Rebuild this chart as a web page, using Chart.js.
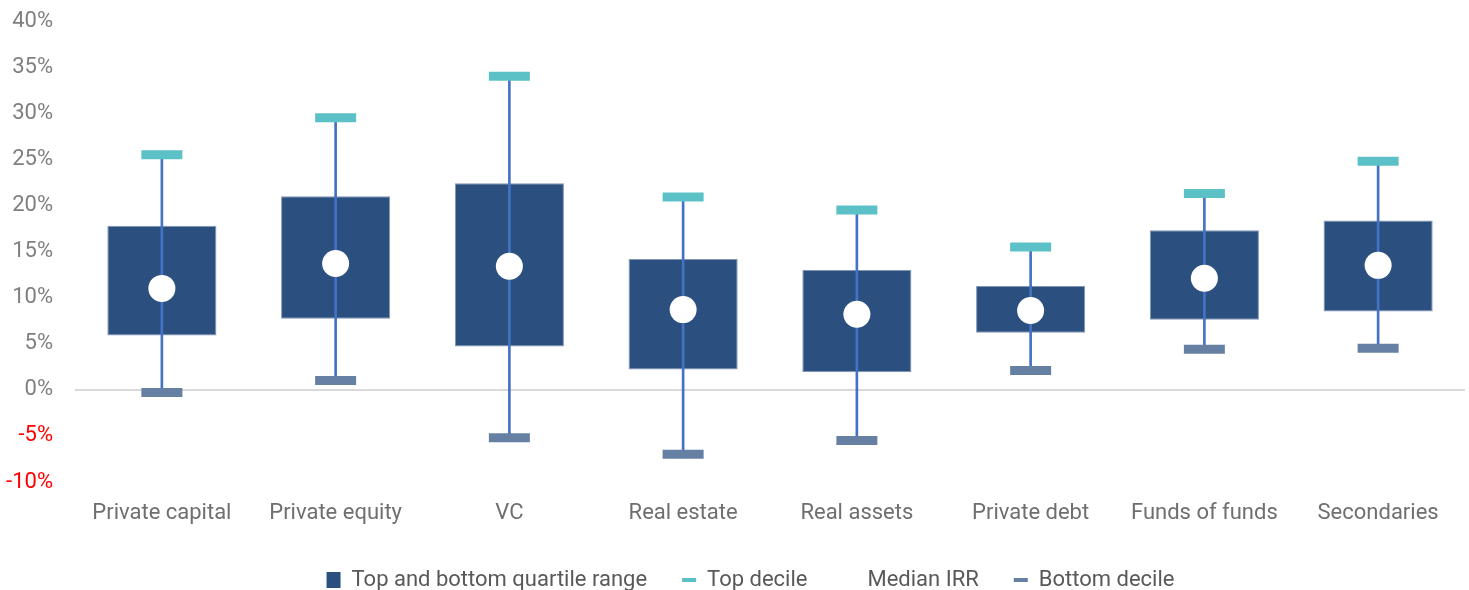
<!DOCTYPE html>
<html><head><meta charset="utf-8">
<script src="https://cdn.jsdelivr.net/npm/chart.js@4"></script>
<style>html,body{margin:0;padding:0;background:#fff}#wrap{width:1469px;height:590px;position:relative}</style>
</head><body><div id="wrap"><canvas id="c"></canvas></div>
<script>
const categories = ['Private capital','Private equity','VC','Real estate','Real assets','Private debt','Funds of funds','Secondaries'];
const topQuartile    = [17.8, 21.0, 22.4, 14.2, 13.0, 11.25, 17.3, 18.35];
const bottomQuartile = [5.9, 7.7, 4.7, 2.2, 1.9, 6.2, 7.6, 8.5];
const medianIRR      = [11.0, 13.7, 13.4, 8.7, 8.2, 8.6, 12.1, 13.5];
const topDecile      = [25.5, 29.5, 34.0, 20.9, 19.5, 15.5, 21.3, 24.8];
const bottomDecile   = [-0.3, 1.0, -5.2, -7.0, -5.5, 2.1, 4.4, 4.5];
const yTickValues    = [-10, -5, 0, 5, 10, 15, 20, 25, 30, 35, 40];
const seriesNames    = ['Top and bottom quartile range', 'Top decile', 'Median IRR', 'Bottom decile'];

const FONT = 'Roboto';
const C_BOX = '#2B5080', C_TOP = '#5BC1C7', C_BOT = '#6680A3', C_WHISK = '#4472C4';

const boxData = categories.map((c, i) => [bottomQuartile[i], topQuartile[i]]);
const whiskerData = categories.map((c, i) => [bottomDecile[i], topDecile[i]]);

const legendHeightPlugin = {
  id: 'legendHeight',
  afterInit(chart) {
    const lg = chart.legend;
    if (!lg) return;
    const orig = lg.fit.bind(lg);
    lg.fit = function () { orig(); this.height = 56; };
  },
  afterLayout(chart) {
    const lg = chart.legend;
    if (!lg) return;
    lg.left += 18; lg.right += 18;
  }
};

new Chart(document.getElementById('c'), {
  type: 'bar',
  data: {
    labels: categories,
    datasets: [
      { label: seriesNames[0], data: boxData, backgroundColor: C_BOX, borderColor: '#8096B4', borderWidth: 1, borderSkipped: false,
        grouped: false, categoryPercentage: 1, barPercentage: 0.628, order: 5 },
      { label: 'whisker', data: whiskerData, backgroundColor: C_WHISK, borderWidth: 0, grouped: false, barThickness: 2, order: 4 },
      { type: 'line', label: seriesNames[1], data: topDecile, showLine: false, pointStyle: 'line', pointRadius: 20.5, pointHoverRadius: 20.5,
        pointBorderWidth: 9, pointHoverBorderWidth: 9, borderColor: C_TOP, backgroundColor: C_TOP, order: 1 },
      { type: 'line', label: seriesNames[2], data: medianIRR, showLine: false, pointStyle: 'circle', pointRadius: 13.5, pointHoverRadius: 13.5,
        pointBorderWidth: 0, borderColor: '#FFFFFF', backgroundColor: '#FFFFFF', order: 2 },
      { type: 'line', label: seriesNames[3], data: bottomDecile, showLine: false, pointStyle: 'line', pointRadius: 20.5, pointHoverRadius: 20.5,
        pointBorderWidth: 9, pointHoverBorderWidth: 9, borderColor: C_BOT, backgroundColor: C_BOT, order: 1 }
    ]
  },
  plugins: [legendHeightPlugin],
  options: {
    responsive: true, maintainAspectRatio: false, animation: false,
    layout: { autoPadding: false, padding: { top: 21, right: 4, left: 0, bottom: 0 } },
    plugins: {
      tooltip: { enabled: false },
      legend: {
        position: 'bottom',
        labels: {
          font: { family: FONT, size: 22 }, color: '#595959', padding: 35,
          usePointStyle: true, pointStyleWidth: 14, boxHeight: 16,
          generateLabels: (chart) => {
            const styles = [
              { pointStyle: 'rect', fillStyle: C_BOX, strokeStyle: C_BOX, lineWidth: 0, idx: 0 },
              { pointStyle: 'line', fillStyle: C_TOP, strokeStyle: C_TOP, lineWidth: 4, idx: 2 },
              { pointStyle: 'circle', fillStyle: '#FFFFFF', strokeStyle: '#FFFFFF', lineWidth: 0, idx: 3 },
              { pointStyle: 'line', fillStyle: C_BOT, strokeStyle: C_BOT, lineWidth: 4, idx: 4 }
            ];
            return styles.map((s, k) => ({ text: seriesNames[k], fillStyle: s.fillStyle, strokeStyle: s.strokeStyle,
              lineWidth: s.lineWidth, pointStyle: s.pointStyle, hidden: false, datasetIndex: s.idx, fontColor: '#595959' }));
          }
        }
      }
    },
    scales: {
      x: {
        grid: { display: false }, border: { display: false },
        ticks: { font: { family: FONT, size: 22 }, color: '#6F6F6F', padding: 10, maxRotation: 0, autoSkip: false },
        afterFit: (s) => { s.height = 52; }
      },
      y: {
        min: yTickValues[0], max: yTickValues[yTickValues.length - 1],
        afterBuildTicks: (s) => { s.ticks = yTickValues.map(v => ({ value: v })); },
        border: { display: false },
        grid: { drawTicks: false, lineWidth: 2, color: (ctx) => ctx.tick && ctx.tick.value === 0 ? '#D9D9D9' : 'rgba(0,0,0,0)' },
        ticks: { font: { family: FONT, size: 22 }, padding: 22, callback: (v) => v + '%',
          color: (ctx) => ctx.tick && ctx.tick.value < 0 ? '#FF0000' : '#7F7F7F' },
        afterFit: (s) => { s.width = 75; s.paddingTop = 0; s.paddingBottom = 0; }
      }
    }
  }
});
</script>
</body></html>
